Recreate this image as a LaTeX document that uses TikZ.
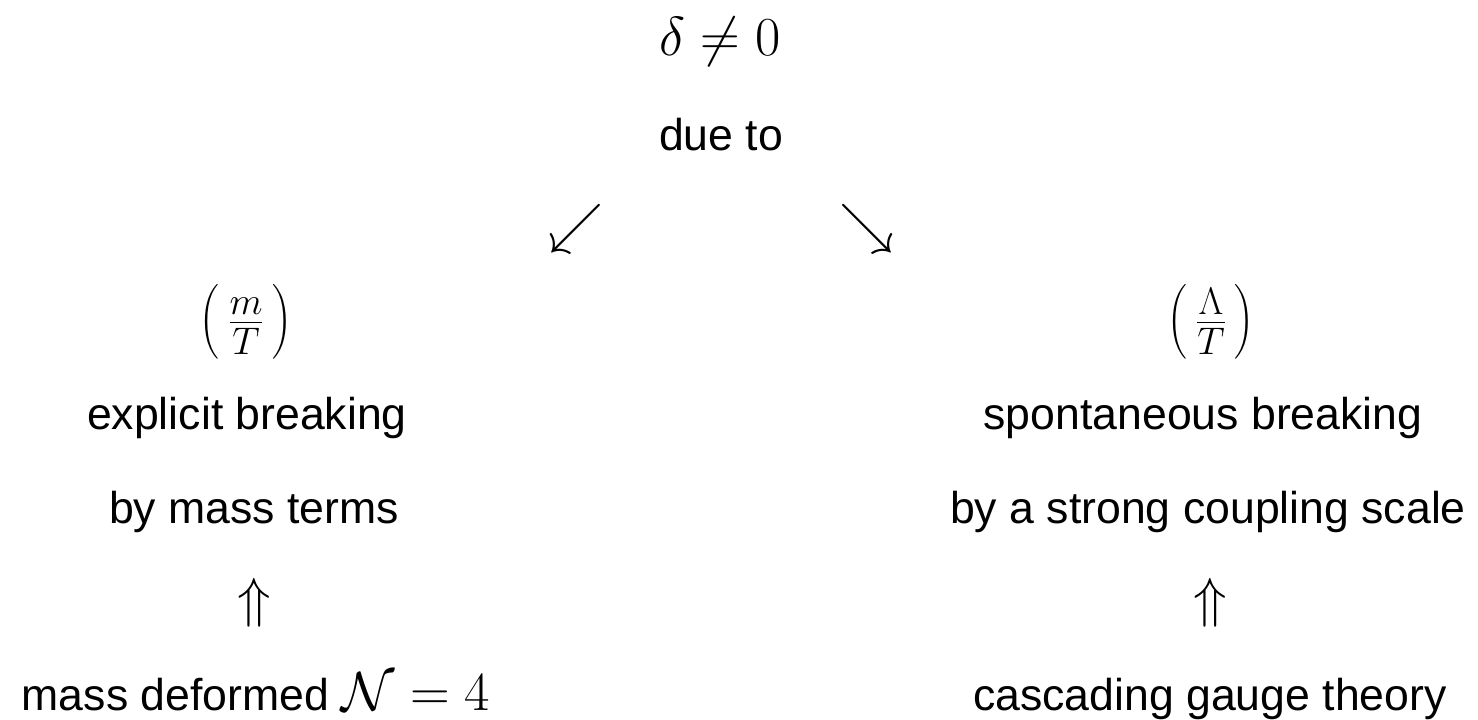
\RequirePackage{fix-cm}
\documentclass[tikz,border=0pt]{standalone}
\usepackage{exscale}
\usepackage{fontspec}
\setsansfont{Liberation Sans}
\newcommand{\bigmath}{\fontsize{55}{60}\selectfont\nulldelimiterspace=10pt\delimitershortfall=27.5pt\relax}
\tikzset{
  txt/.style={font=\fontsize{44.6}{50}\sffamily, inner sep=0pt, anchor=base},
  mth/.style={font=\bigmath, inner sep=0pt},
}
\begin{document}
\begin{tikzpicture}[x=1pt,y=-1pt]
\useasboundingbox (0,0) rectangle (1478,720);
\node[mth, anchor=base] (delta) at (720,55) {$\delta\neq0$};
\node[txt] (dueto) at (721,150) {due to};
\node[mth] (sw) at (576,229) {$\swarrow$};
\node[mth] (se) at (867,229) {$\searrow$};
\node[mth, anchor=base] (mT) at (246,336) {$\left(\vphantom{\frac{\Lambda}{T}}\frac{m}{T}\right)$};
\node[mth, anchor=base] (LT) at (1211,336) {$\left(\frac{\Lambda}{T}\right)$};
\node[txt] (expl) at (247,429) {explicit breaking};
\node[txt] (bymass) at (254,523) {by mass terms};
\node[mth] (upL) at (254,603) {$\Uparrow$};
\node[txt] (massdef) at (256,710) {mass deformed {\bigmath$\mathcal{N}=4$}};
\node[txt] (spont) at (1203,429) {spontaneous breaking};
\node[txt] (bystrong) at (1208,523) {by a strong coupling scale};
\node[mth] (upR) at (1210,603) {$\Uparrow$};
\node[txt] (casc) at (1210,710) {cascading gauge theory};
\end{tikzpicture}
\end{document}
